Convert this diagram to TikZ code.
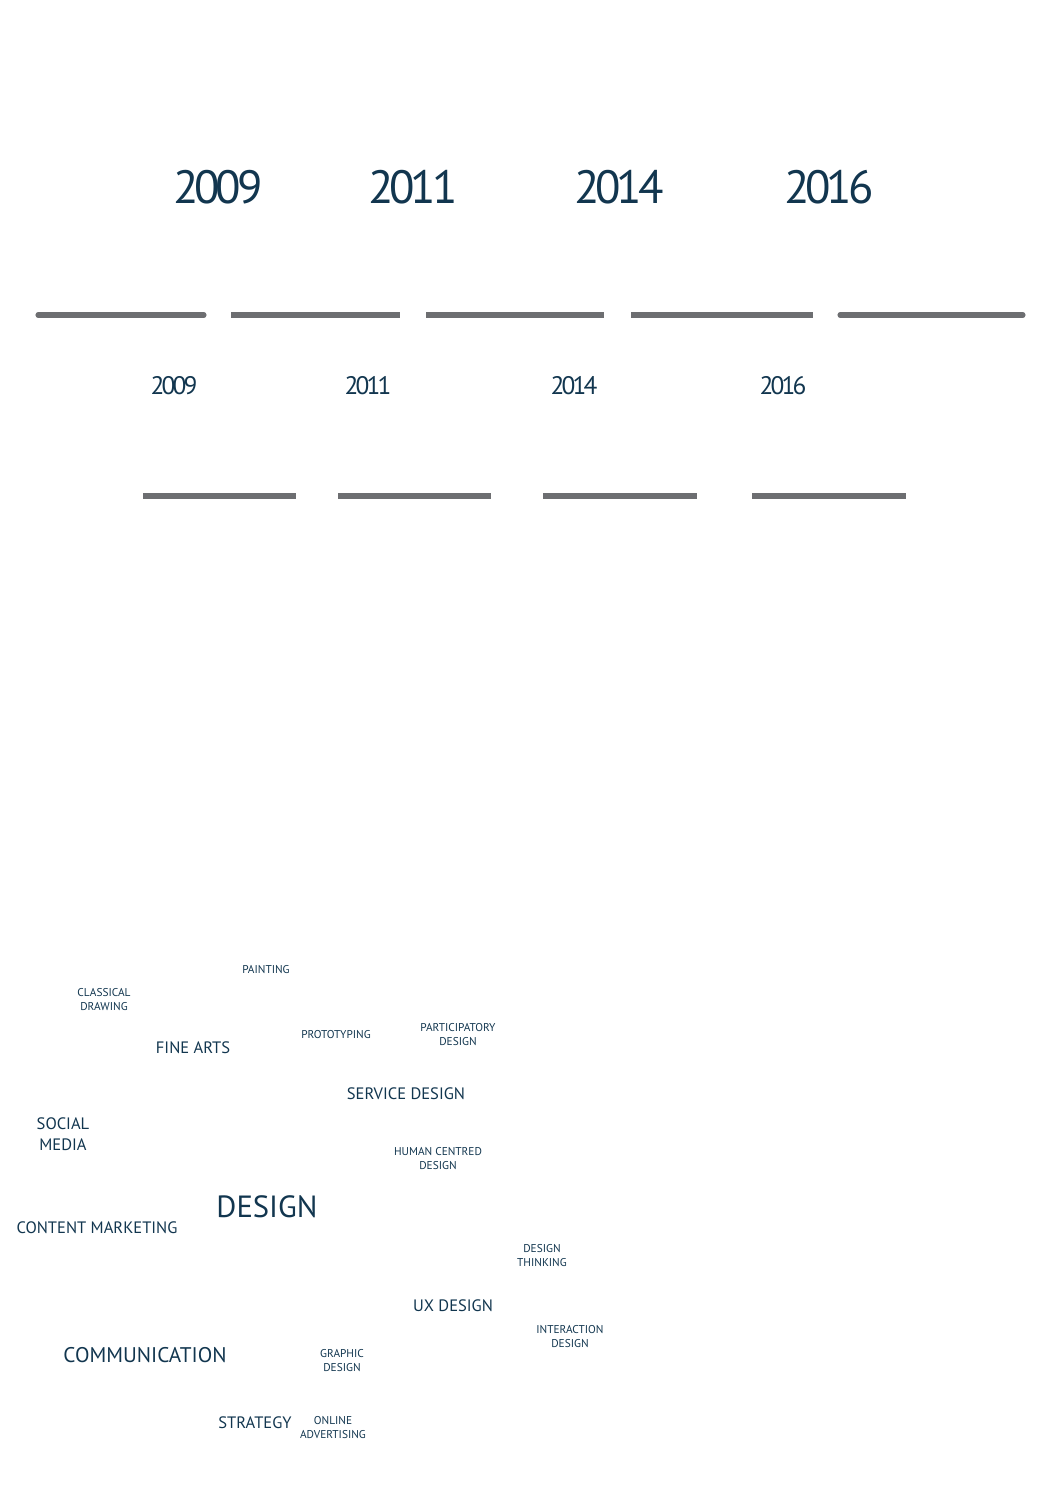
\documentclass[tikz,border=0pt]{standalone}
\usepackage{fontspec}
\setmainfont{PT Sans}
\usepackage{tikz}
\usetikzlibrary{calc}
\definecolor{navy}{HTML}{12364F}
\definecolor{bargray}{HTML}{6D6E71}

\begin{document}
\begin{tikzpicture}[x=0.75pt,y=-0.75pt,inner sep=0pt,text=navy]
  \tikzstyle{bigyear}=[font=\fontsize{35}{35}\selectfont\addfontfeatures{LetterSpace=-9}]
  \tikzstyle{smallyear}=[font=\fontsize{19}{19}\selectfont\addfontfeatures{LetterSpace=-11}]
  \tikzstyle{bar}=[draw=bargray,line width=3.8pt]
  \tikzstyle{tiny}=[font=\fontsize{8.5}{10.5}\selectfont,align=center]
  \tikzstyle{mid}=[font=\fontsize{12.4}{16}\selectfont,align=center]
  \tikzstyle{large}=[font=\fontsize{15.9}{15.9}\selectfont]
  \tikzstyle{huge}=[font=\fontsize{23}{23}\selectfont]

  \useasboundingbox (0,0) rectangle (1060,1500);

  % top row of years
  \node[bigyear] (y09) at (218,187) {2009};
  \node[bigyear] (y11) at (413,187) {2011};
  \node[bigyear] (y14) at (619,187) {2014};
  \node[bigyear] (y16) at (829,187) {2016};

  \draw[bar,line cap=round] (38,315) -- (204,315);
  \draw[bar] (231,315) -- (400,315);
  \draw[bar] (426,315) -- (604,315);
  \draw[bar] (631,315) -- (813,315);
  \draw[bar,line cap=round] (840,315) -- (1023,315);

  % second row of years
  \node[smallyear] (s09) at (174,386) {2009};
  \node[smallyear] (s11) at (368,386) {2011};
  \node[smallyear] (s14) at (574,386) {2014};
  \node[smallyear] (s16) at (783,386) {2016};

  \draw[bar] (143,496) -- (296,496);
  \draw[bar] (338,496) -- (491,496);
  \draw[bar] (543,496) -- (697,496);
  \draw[bar] (752,496) -- (906,496);

  % word cloud
  \node[tiny] (paint) at (266,970) {PAINTING};
  \node[tiny] (draw) at (104,1000) {CLASSICAL\\DRAWING};
  \node[mid] (fine) at (193,1048) {FINE ARTS};
  \node[tiny] (proto) at (336,1035) {PROTOTYPING};
  \node[tiny] (partic) at (458,1035) {PARTICIPATORY\\DESIGN};
  \node[mid] (service) at (406,1094) {SERVICE DESIGN};
  \node[mid] (social) at (63,1134) {SOCIAL\\MEDIA};
  \node[tiny] (human) at (438,1159) {HUMAN CENTRED\\DESIGN};
  \node[huge] (design) at (267,1207) {DESIGN};
  \node[mid] (content) at (97,1228) {CONTENT MARKETING};
  \node[tiny] (think) at (542,1256) {DESIGN\\THINKING};
  \node[mid] (ux) at (453,1306) {UX DESIGN};
  \node[tiny] (inter) at (570,1337) {INTERACTION\\DESIGN};
  \node[large] (comm) at (145,1355) {COMMUNICATION};
  \node[tiny] (graphic) at (342,1361) {GRAPHIC\\DESIGN};
  \node[mid] (strat) at (255,1423) {STRATEGY};
  \node[tiny] (online) at (333,1428) {ONLINE\\ADVERTISING};
\end{tikzpicture}
\end{document}
